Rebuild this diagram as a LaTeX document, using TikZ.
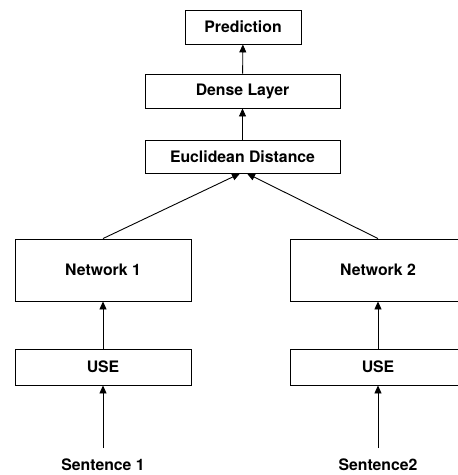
\documentclass[tikz,border=0pt]{standalone}
\usepackage{fontspec}
\setmainfont{TeX Gyre Heros}
\usetikzlibrary{arrows.meta}

\tikzset{
  layer/.style={draw, line width=0.9pt, inner sep=0pt, minimum width=#1, font=\fontsize{15.8}{18}\selectfont\bfseries},
  layer/.default=176pt,
  flow/.style={line width=0.9pt, -{Triangle[width=7pt,length=8pt]}}
}

\begin{document}
\begin{tikzpicture}[x=1pt, y=-1pt]
\useasboundingbox (0,0) rectangle (458,475);
\node[layer=116pt, minimum height=34pt] (pred) at (243,27) {Prediction};
\node[layer=195pt, minimum height=34pt] (dense) at (242.5,91) {Dense Layer};
\node[layer=195pt, minimum height=33pt] (eucl) at (242.5,156.5) {Euclidean Distance};
\node[layer, minimum height=62pt] (net1) at (103,270) {Network 1};
\node[layer, minimum height=62pt] (net2) at (378,270) {Network 2};
\node[layer, minimum height=36pt] (use1) at (103,367) {USE};
\node[layer, minimum height=36pt] (use2) at (378,367) {USE};
\node[font=\fontsize{15.8}{18}\selectfont\bfseries] (sent1) at (103,465) {Sentence 1};
\node[font=\fontsize{15.8}{18}\selectfont\bfseries] (sent2) at (378,465) {Sentence2};
\coordinate (in1) at (103,448);
\coordinate (in2) at (378,448);
\coordinate (tip1) at (240,173.5);
\coordinate (tip2) at (247,173.5);
% arrows
\draw[flow] (in1) -- (use1);
\draw[flow] (in2) -- (use2);
\draw[flow] (use1) -- (net1);
\draw[flow] (use2) -- (net2);
\draw[flow] (net1.north) -- (tip1);
\draw[flow] (net2.north) -- (tip2);
\draw[flow] (eucl) -- (dense);
\draw[flow] (dense) -- (pred);
\end{tikzpicture}
\end{document}
